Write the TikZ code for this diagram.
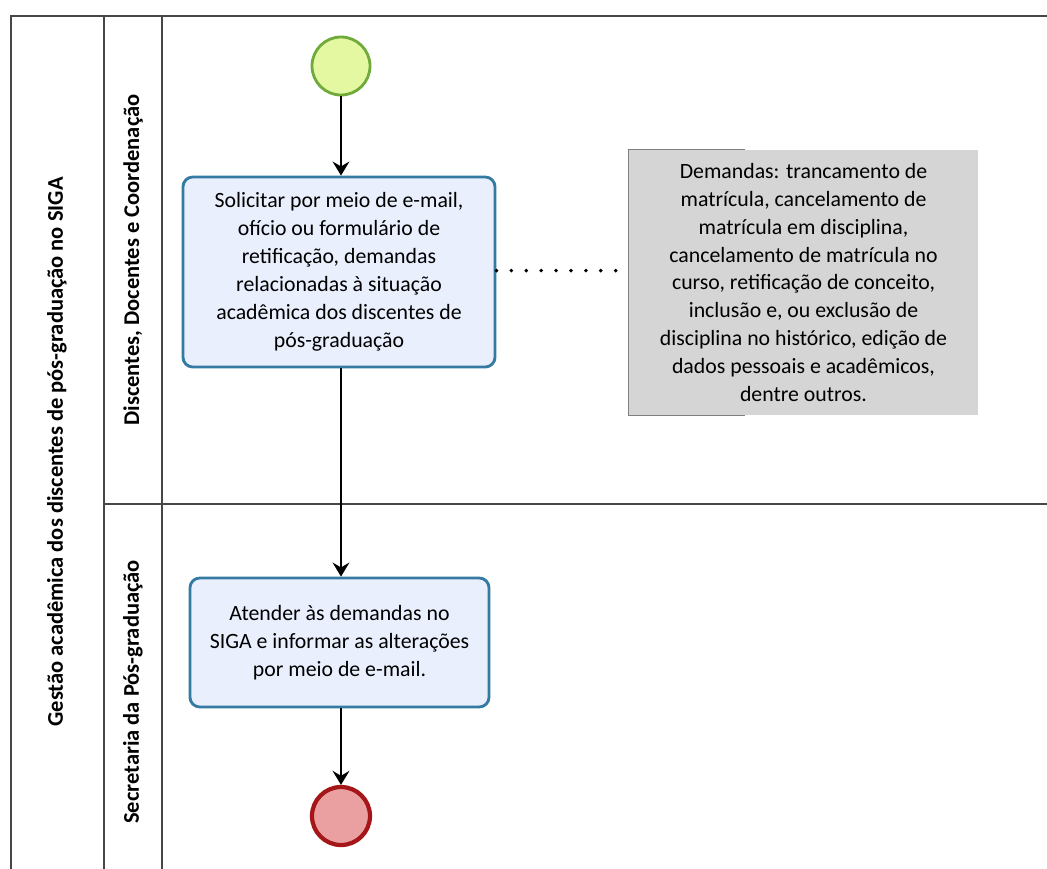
\documentclass[tikz,border=0pt]{standalone}
\usepackage{fontspec}
\setmainfont{Carlito}
\usetikzlibrary{arrows.meta}
\definecolor{poolcinza}{RGB}{70,70,70}
\definecolor{inicioborda}{RGB}{112,170,58}
\definecolor{iniciofundo}{RGB}{228,248,162}
\definecolor{fimborda}{RGB}{165,22,24}
\definecolor{fimfundo}{RGB}{234,160,160}
\definecolor{tarefaborda}{RGB}{52,122,162}
\definecolor{tarefafundo}{RGB}{233,239,252}
\definecolor{notafundo}{RGB}{213,213,213}
\definecolor{notaborda}{RGB}{128,128,128}
\begin{document}
\begin{tikzpicture}[x=0.025cm,y=-0.025cm,
    lane/.style={draw=poolcinza,line width=0.8pt},
    rotulo/.style={rotate=90,font=\bfseries\fontsize{16}{19}\selectfont},
    tarefa/.style={draw=tarefaborda,fill=tarefafundo,line width=2pt,rounded corners=7pt,
      align=center,inner sep=0pt,font=\fontsize{15.5}{19.9}\selectfont},
    evento/.style={circle,minimum size=1.45cm,inner sep=0pt},
    fluxo/.style={line width=1pt,-{Stealth[length=10pt,width=12pt,inset=3.5pt]}}]
    \useasboundingbox (0,0) rectangle (1047,869);
    % pool e raias
    \draw[lane] (11,869) -- (11,16) -- (1047,16);
    \draw[lane] (104,16) -- (104,869);
    \draw[lane] (162,16) -- (162,869);
    \draw[lane] (104,504) -- (1047,504);
    \node[rotulo] (pool) at (57,452) {Gestão acadêmica dos discentes de pós-graduação no SIGA};
    \node[rotulo] (raia1) at (133,260) {Discentes, Docentes e Coordenação};
    \node[rotulo] (raia2) at (133,692) {Secretaria da Pós-graduação};
    % eventos e tarefas
    \node[evento,draw=inicioborda,fill=iniciofundo,line width=2pt] (inicio) at (341,66) {};
    \node[tarefa,minimum width=7.8cm,minimum height=4.75cm] (solicitar) at (339,272)
      {Solicitar por meio de e-mail,\\ ofício ou formulário de\\ retificação, demandas\\
       relacionadas à situação\\ acadêmica dos discentes de\\ pós-graduação};
    \node[tarefa,minimum width=7.475cm,minimum height=3.225cm] (atender) at (339.5,642.5)
      {Atender às demandas no\\ SIGA e informar as alterações\\ por meio de e-mail.};
    \node[evento,draw=fimborda,fill=fimfundo,line width=3pt] (fim) at (341,816) {};
    % anotacao
    \node[fill=notafundo,minimum width=8.725cm,minimum height=6.625cm,align=center,
      inner sep=0pt,font=\fontsize{15.5}{19.9}\selectfont] (nota) at (803.5,282.5)
      {Demandas: trancamento de\\ matrícula, cancelamento de\\ matrícula em disciplina,\\
       cancelamento de matrícula no\\ curso, retificação de conceito,\\ inclusão e, ou exclusão de\\
       disciplina no histórico, edição de\\ dados pessoais e acadêmicos,\\ dentre outros.};
    \draw[notaborda,line width=0.8pt] (nota.north west) ++(116,0) -- (nota.north west)
      -- (nota.south west) -- ++(116,0);
    \draw[line width=2.8pt,line cap=round,dash pattern=on 0pt off 10.6pt]
      ([yshift=1pt]solicitar.east) -- ([yshift=1pt]solicitar.east -| nota.west);
    % fluxos
    \draw[fluxo] (inicio) -- (inicio |- solicitar.north);
    \draw[fluxo] (inicio |- solicitar.south) -- (inicio |- atender.north);
    \draw[fluxo] (inicio |- atender.south) -- (fim);
\end{tikzpicture}
\end{document}
